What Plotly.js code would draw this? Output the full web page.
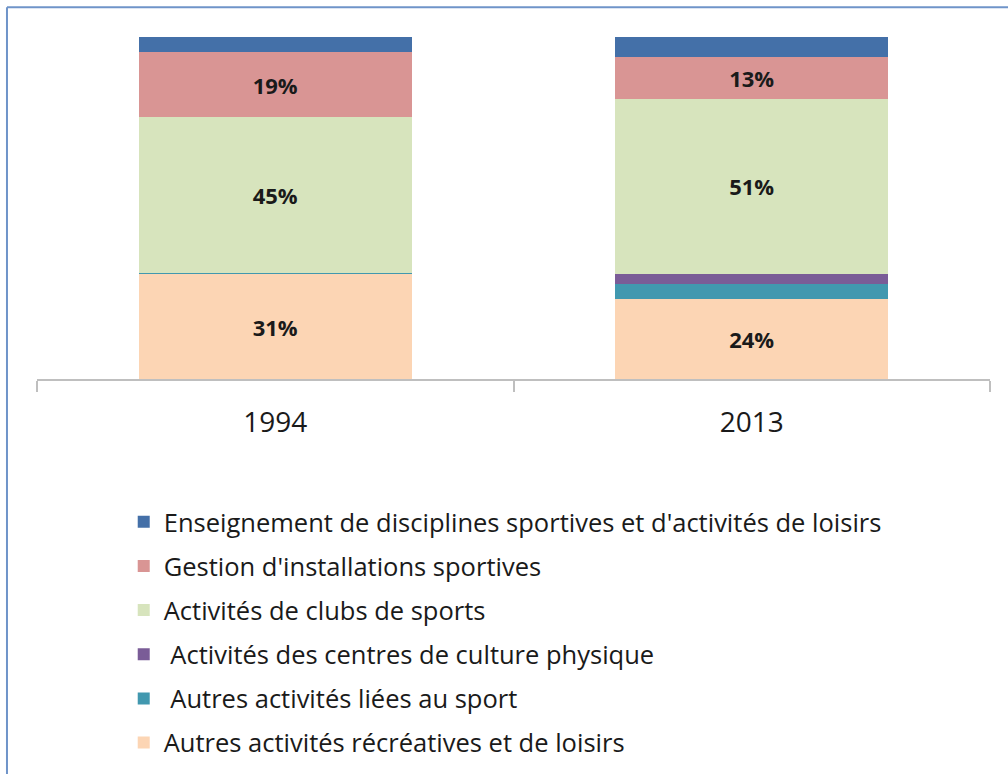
<!DOCTYPE html>
<html>
<head>
<meta charset="utf-8">
<script src="https://cdn.plot.ly/plotly-3.0.1.min.js"></script>
<style>
html,body{margin:0;padding:0;background:#fff;}
#chart{width:1008px;height:774px;}
</style>
</head>
<body>
<div id="chart"></div>
<script>
// Data
const years = ["1994", "2013"];
const seriesNames = [
  "Autres activités récréatives et de loisirs",
  "\u00a0Autres activités liées au sport",
  "\u00a0Activités des centres de culture physique",
  "Activités de clubs de sports",
  "Gestion d'installations sportives",
  "Enseignement de disciplines sportives et d'activités de loisirs"
];
const valRecreatives = [30.7, 23.4];
const valAutresSport = [0.4, 4.4];
const valCulture = [0, 2.9];
const valClubs = [45.5, 51.2];
const valGestion = [19.0, 12.3];
const valEnseignement = [4.4, 5.8];
const lblRecreatives = ["31%", "24%"];
const lblAutresSport = ["", ""];
const lblCulture = ["", ""];
const lblClubs = ["45%", "51%"];
const lblGestion = ["19%", "13%"];
const lblEnseignement = ["", ""];

const colors = ["#fcd5b4", "#4198af", "#7a5c97", "#d7e4bd", "#d99594", "#4470a8"];
const values = [valRecreatives, valAutresSport, valCulture, valClubs, valGestion, valEnseignement];
const labels = [lblRecreatives, lblAutresSport, lblCulture, lblClubs, lblGestion, lblEnseignement];

const traces = values.map((v, i) => ({
  type: "bar",
  x: years,
  y: v,
  name: seriesNames[i],
  legendgroup: "g" + i,
  legendrank: 1000 - i,
  marker: {color: colors[i], line: {width: 0}},
  text: labels[i],
  textposition: "inside",
  insidetextanchor: "middle",
  textangle: 0,
  constraintext: "none",
  textfont: {family: "'Open Sans', sans-serif", size: 22, color: "#1a1a1a", weight: "bold"},
  hoverinfo: "none"
}));

const layout = {
  width: 1008,
  height: 774,
  barmode: "stack",
  bargap: 0.428,
  paper_bgcolor: "#ffffff",
  plot_bgcolor: "#ffffff",
  margin: {l: 37, r: 18, t: 37, b: 395, pad: 0, autoexpand: false},
  font: {family: "'Open Sans', sans-serif", color: "#1a1a1a"},
  xaxis: {
    type: "category",
    showline: true,
    linecolor: "#bfbfbf",
    linewidth: 2,
    ticks: "outside",
    tickson: "boundaries",
    ticklen: 11,
    tickwidth: 2,
    tickcolor: "#bfbfbf",
    ticklabelstandoff: 17,
    tickfont: {size: 28, color: "#1a1a1a"},
    showgrid: false,
    zeroline: false,
    fixedrange: true
  },
  yaxis: {
    range: [0, 100],
    visible: false,
    showgrid: false,
    zeroline: false,
    fixedrange: true
  },
  showlegend: true,
  legend: {
    orientation: "v",
    x: 0.091,
    xanchor: "left",
    y: -0.35,
    yanchor: "top",
    traceorder: "grouped",
    tracegroupgap: 8,
    font: {size: 25.5, color: "#1a1a1a"},
    itemclick: false,
    itemdoubleclick: false
  },
  shapes: [
    {type: "line", xref: "paper", yref: "paper", x0: -0.0315, x1: 1.03, y0: 1.087, y1: 1.087, line: {color: "#6f94c9", width: 2}},
    {type: "line", xref: "paper", yref: "paper", x0: -0.0315, x1: -0.0315, y0: 1.087, y1: -1.2, line: {color: "#6f94c9", width: 2}}
  ]
};

Plotly.newPlot("chart", traces, layout, {displayModeBar: false, staticPlot: true});
</script>
</body>
</html>
